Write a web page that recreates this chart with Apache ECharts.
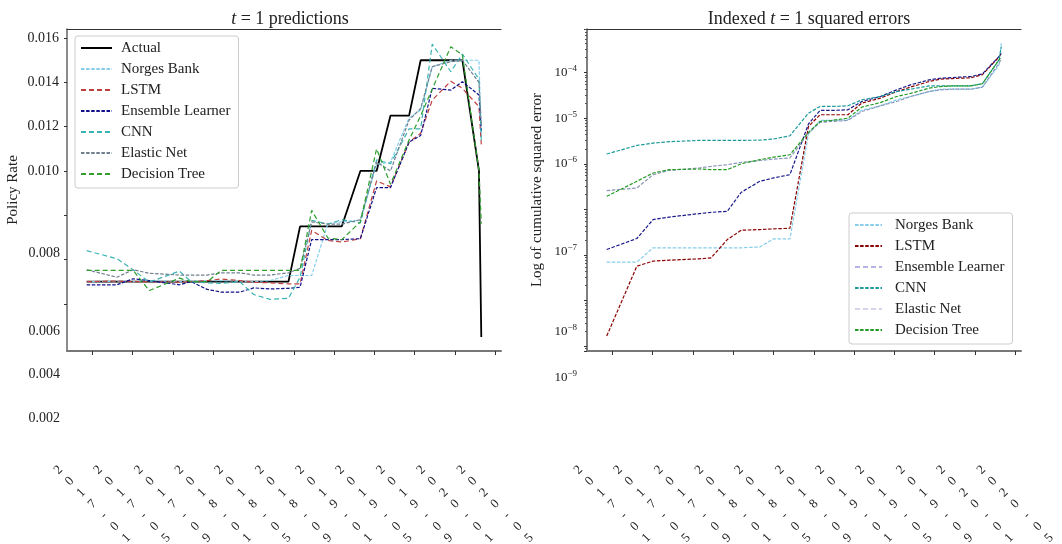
<!DOCTYPE html>
<html>
<head>
<meta charset="utf-8">
<script src="https://cdn.jsdelivr.net/npm/echarts@6/dist/echarts.min.js"></script>
<style>
  html, body { margin: 0; padding: 0; background: #fff; }
  #chart { width: 1062px; height: 544px; }
</style>
</head>
<body>
<div id="chart"></div>
<script>
// meeting dates shown on both panels
var dates = ['2016-12-15','2017-03-16','2017-05-04','2017-06-22','2017-09-21','2017-10-26','2017-12-14',
  '2018-01-25','2018-03-22','2018-05-03','2018-06-21','2018-08-16','2018-09-20','2018-10-25','2018-12-13',
  '2019-01-24','2019-03-21','2019-05-09','2019-06-20','2019-08-15','2019-09-19','2019-10-24','2019-12-19',
  '2020-01-23','2020-03-13','2020-03-20'];

// left panel: t = 1 predictions of the policy rate
var actual   = [0.005,0.005,0.005,0.005,0.005,0.005,0.005,0.005,0.005,0.005,0.005,0.005,0.0075,0.0075,0.0075,0.0075,0.01,0.01,0.0125,0.0125,0.015,0.015,0.015,0.015,0.01,0.0025];
var norges   = [0.00500,0.00502,0.00500,0.00505,0.00500,0.00503,0.00505,0.00505,0.00502,0.00500,0.00505,0.00528,0.00528,0.00528,0.00762,0.00770,0.00777,0.01030,0.01040,0.01240,0.01275,0.01470,0.01500,0.01500,0.01500,0.01150];
var lstm     = [0.00500,0.00503,0.00500,0.00500,0.00498,0.00500,0.00505,0.00512,0.00505,0.00497,0.00495,0.00490,0.00490,0.00732,0.00686,0.00679,0.00694,0.00955,0.00928,0.01130,0.01170,0.01320,0.01405,0.01373,0.01290,0.01120];
var ensemble = [0.00486,0.00486,0.00513,0.00505,0.00486,0.00500,0.00465,0.00453,0.00453,0.00472,0.00467,0.00470,0.00475,0.00690,0.00690,0.00690,0.00694,0.00925,0.00925,0.01130,0.01160,0.01373,0.01365,0.01403,0.01343,0.01180];
var cnn      = [0.00640,0.00604,0.00554,0.00498,0.00548,0.00500,0.00495,0.00492,0.00500,0.00442,0.00420,0.00425,0.00520,0.00777,0.00760,0.00780,0.00765,0.01050,0.01033,0.01190,0.01190,0.01573,0.01448,0.01528,0.01414,0.01139];
var elastic  = [0.00554,0.00520,0.00554,0.00538,0.00530,0.00530,0.00530,0.00540,0.00540,0.00530,0.00530,0.00540,0.00560,0.00770,0.00760,0.00760,0.00780,0.01040,0.01000,0.01230,0.01282,0.01471,0.01493,0.01500,0.01400,0.01210];
var tree     = [0.00551,0.00551,0.00551,0.00460,0.00516,0.00500,0.00500,0.00551,0.00551,0.00551,0.00551,0.00551,0.00551,0.00822,0.00697,0.00690,0.00770,0.01100,0.00940,0.01140,0.01250,0.01370,0.01561,0.01524,0.01000,0.00762];

// right panel: indexed cumulative squared errors (log scale)
var errNorges   = [6.97e-9,6.97e-9,1.44e-8,1.44e-8,1.44e-8,1.44e-8,1.44e-8,1.44e-8,1.5e-8,2.26e-8,2.26e-8,4.5e-6,8.92e-6,8.92e-6,9.2e-6,1.5e-5,1.87e-5,2.53e-5,2.99e-5,3.84e-5,4.32e-5,4.32e-5,4.32e-5,4.8e-5,1.45e-4,4.4e-4];
var errLstm     = [1.67e-10,5.69e-9,7.33e-9,7.71e-9,8.24e-9,8.67e-9,2.18e-8,3.49e-8,3.61e-8,3.74e-8,3.86e-8,6.59e-6,1.19e-5,1.19e-5,1.19e-5,2.14e-5,2.75e-5,3.84e-5,4.8e-5,6.37e-5,7.2e-5,7.4e-5,7.7e-5,9.0e-5,2.2e-4,2.65e-4];
var errEnsemble = [1.32e-8,2.3e-8,5.98e-8,6.8e-8,8.1e-8,8.6e-8,9.1e-8,2.37e-7,4.13e-7,4.9e-7,5.77e-7,7.5e-6,1.48e-5,1.48e-5,1.53e-5,2.32e-5,2.99e-5,4.18e-5,5.38e-5,6.92e-5,7.53e-5,7.8e-5,8.2e-5,9.37e-5,2.24e-4,2.65e-4];
var errCnn      = [1.64e-6,2.53e-6,2.85e-6,3.05e-6,3.26e-6,3.26e-6,3.26e-6,3.26e-6,3.3e-6,3.5e-6,4.12e-6,1.29e-5,1.81e-5,1.81e-5,1.87e-5,2.53e-5,2.99e-5,3.84e-5,4.32e-5,5.12e-5,5.12e-5,5.12e-5,5.12e-5,5.7e-5,1.9e-4,3.72e-4];
var errElastic  = [2.58e-7,2.95e-7,5.77e-7,7.2e-7,8.1e-7,8.79e-7,9.56e-7,1.07e-6,1.18e-6,1.27e-6,1.34e-6,4.71e-6,8.1e-6,8.48e-6,8.92e-6,1.4e-5,1.87e-5,2.32e-5,2.99e-5,3.84e-5,4.18e-5,4.32e-5,4.32e-5,4.8e-5,1.6e-4,1.95e-4];
var errTree     = [1.94e-7,4.13e-7,6.28e-7,7.43e-7,7.7e-7,7.43e-7,7.43e-7,1.0e-6,1.23e-6,1.4e-6,1.58e-6,4.9e-6,8.48e-6,8.92e-6,1.0e-5,1.75e-5,2.2e-5,2.99e-5,3.5e-5,4.55e-5,4.95e-5,5.12e-5,5.12e-5,5.7e-5,1.9e-4,2.24e-4];

// axis ticks
var tickDates  = ['2017-01-01','2017-05-01','2017-09-01','2018-01-01','2018-05-01','2018-09-01','2019-01-01','2019-05-01','2019-09-01','2020-01-01','2020-05-01'];
var tickLabels = ['2017-01','2017-05','2017-09','2018-01','2018-05','2018-09','2019-01','2019-05','2019-09','2020-01','2020-05'];
var rateTicks  = [0.004,0.006,0.008,0.010,0.012,0.014,0.016];
var rateLabels = [0.010,0.012,0.014,0.016];

var FONT = 'Liberation Serif';

// days since 2017-01-01
function dayNum(s){
	var p = s.split('-');
	return (Date.UTC(+p[0], +p[1] - 1, +p[2]) - Date.UTC(2017, 0, 1)) / 864e5;
}
var tickDays = tickDates.map(dayNum);
function pairs(vals){
	return dates.map(function(d, i){ return [dayNum(d), vals[i]]; });
}

var X_MIN = -76.5, X_MAX = 1233.5;

function bottomAxis(grid){
	return {
		type: 'value', gridIndex: grid, min: X_MIN, max: X_MAX,
		splitLine: {show: false},
		axisLine: {show: true, onZero: false, lineStyle: {color: '#777', width: 2}},
		axisTick: {show: true, customValues: tickDays, length: 4, lineStyle: {color: '#333'}},
		axisLabel: {
			customValues: tickDays, rotate: 45, margin: 153, align: 'center', verticalAlign: 'middle',
			fontFamily: FONT, fontSize: 13, lineHeight: 16, color: '#222',
			formatter: function(v){
				var i = tickDays.indexOf(v);
				var t = i >= 0 ? tickLabels[i] : '';
				return t.split('').join('\n');
			}
		}
	};
}
function topLine(grid){
	return {
		type: 'value', gridIndex: grid, position: 'top', min: X_MIN, max: X_MAX,
		splitLine: {show: false}, axisTick: {show: false}, axisLabel: {show: false},
		axisLine: {show: true, onZero: false, lineStyle: {color: '#333', width: 1}}
	};
}

function line(name, vals, color, dash, xi, yi, width){
	return {
		name: name, type: 'line', xAxisIndex: xi, yAxisIndex: yi,
		data: pairs(vals), symbol: 'none', showSymbol: false,
		lineStyle: {color: color, width: width || 1.2, type: dash},
		itemStyle: {color: color}
	};
}

var fine = [3.5, 1.6], longd = [5, 3];
var sup = {fontSize: 9, fontFamily: FONT, color: '#222', padding: [0, 0, 8, 0]};
// legend entries show only the line, no marker
var noMark = {opacity: 0};

var chart = echarts.init(document.getElementById('chart'));
chart.setOption({
	animation: false,
	textStyle: {fontFamily: FONT},
	title: [
		{text: '{i|t} = 1 predictions', left: 285, top: 5, textAlign: 'center',
		 textStyle: {fontSize: 18, fontWeight: 'normal', color: '#222', fontFamily: FONT,
			rich: {i: {fontStyle: 'italic', fontSize: 18, fontFamily: FONT, color: '#222'}}}},
		{text: 'Indexed {i|t} = 1 squared errors', left: 804, top: 5, textAlign: 'center',
		 textStyle: {fontSize: 18, fontWeight: 'normal', color: '#222', fontFamily: FONT,
			rich: {i: {fontStyle: 'italic', fontSize: 18, fontFamily: FONT, color: '#222'}}}}
	],
	grid: [
		{left: 67, top: 29, width: 434, height: 322, outerBoundsMode: 'none'},
		{left: 587, top: 29, width: 434, height: 322, outerBoundsMode: 'none'}
	],
	legend: [
		{
			orient: 'vertical', left: 75, top: 36, itemWidth: 31, itemHeight: 10, itemGap: 5,
			padding: [4, 8, 6, 5], backgroundColor: '#fff', borderColor: '#ccc', borderWidth: 1, borderRadius: 3,
			itemStyle: noMark,
			textStyle: {fontFamily: FONT, fontSize: 15, color: '#222', lineHeight: 16, padding: [0, 0, 0, 4]},
			data: ['Actual', 'Norges Bank', 'LSTM', 'Ensemble Learner', 'CNN', 'Elastic Net', 'Decision Tree']
		},
		{
			orient: 'vertical', left: 849, top: 213, itemWidth: 27, itemHeight: 10, itemGap: 5,
			padding: [4, 8, 6, 5], backgroundColor: '#fff', borderColor: '#ccc', borderWidth: 1, borderRadius: 3,
			itemStyle: noMark,
			textStyle: {fontFamily: FONT, fontSize: 15, color: '#222', lineHeight: 16, padding: [0, 0, 0, 8]},
			data: [
				{name: 'Norges Bank', lineStyle: {color: '#87ceeb', type: fine}, itemStyle: noMark},
				{name: 'LSTM', lineStyle: {color: '#8b0000', type: fine}, itemStyle: noMark},
				{name: 'Ensemble Learner', lineStyle: {color: '#b4b4e6', type: longd}, itemStyle: noMark},
				{name: 'CNN', lineStyle: {color: '#1a9a9a', type: fine}, itemStyle: noMark},
				{name: 'Elastic Net', lineStyle: {color: '#d4d4ea', type: longd}, itemStyle: noMark},
				{name: 'Decision Tree', lineStyle: {color: '#239b23', type: fine}, itemStyle: noMark}
			]
		}
	],
	xAxis: [bottomAxis(0), bottomAxis(1), topLine(0), topLine(1)],
	yAxis: [
		{
			type: 'value', gridIndex: 0, min: 0.00187, max: 0.01641,
			name: 'Policy Rate', nameLocation: 'middle', nameGap: 46,
			nameTextStyle: {fontFamily: FONT, fontSize: 15, color: '#222'},
			splitLine: {show: false},
			axisLine: {show: true, onZero: false, lineStyle: {color: '#666', width: 1.5}},
			axisTick: {show: true, customValues: rateTicks, length: 3, lineStyle: {color: '#333'}},
			axisLabel: {customValues: rateLabels, margin: 8, fontSize: 14, color: '#222', fontFamily: FONT,
				formatter: function(v){ return v.toFixed(3); }}
		},
		{
			type: 'log', logBase: 10, gridIndex: 1, min: 7.85e-11, max: 9.04e-4, splitNumber: 8,
			name: 'Log of cumulative squared error', nameLocation: 'middle', nameGap: 42,
			nameTextStyle: {fontFamily: FONT, fontSize: 15, color: '#222'},
			splitLine: {show: false},
			axisLine: {show: true, onZero: false, lineStyle: {color: '#555', width: 1.5}},
			axisTick: {show: true, length: 3, lineStyle: {color: '#333'}},
			minorTick: {show: true, splitNumber: 8, length: 2, lineStyle: {color: '#555'}},
			axisLabel: {margin: 10, fontSize: 13, color: '#222', fontFamily: FONT,
				formatter: function(v){
					var e = Math.round(Math.log(v) / Math.LN10);
					if (e < -6 || e > -4) return '';
					return '10{s|\u2212' + (-e) + '}';
				},
				rich: {s: sup}}
		}
	],
	// the lower tick labels sit below their ticks in the original figure
	graphic: [
		{type: 'text', x: 60, y: 253, style: {text: '0.008', align: 'right', verticalAlign: 'middle', font: '14px "Liberation Serif"', fill: '#222'}},
		{type: 'text', x: 60, y: 331, style: {text: '0.006', align: 'right', verticalAlign: 'middle', font: '14px "Liberation Serif"', fill: '#222'}},
		{type: 'text', x: 60, y: 374, style: {text: '0.004', align: 'right', verticalAlign: 'middle', font: '14px "Liberation Serif"', fill: '#222'}},
		{type: 'text', x: 60, y: 418, style: {text: '0.002', align: 'right', verticalAlign: 'middle', font: '14px "Liberation Serif"', fill: '#222'}},
		{type: 'text', x: 577, y: 252, style: {text: '10{s|\u22127}', rich: {s: sup}, align: 'right', verticalAlign: 'middle', font: '13px "Liberation Serif"', fill: '#222'}},
		{type: 'text', x: 577, y: 332, style: {text: '10{s|\u22128}', rich: {s: sup}, align: 'right', verticalAlign: 'middle', font: '13px "Liberation Serif"', fill: '#222'}},
		{type: 'text', x: 577, y: 378, style: {text: '10{s|\u22129}', rich: {s: sup}, align: 'right', verticalAlign: 'middle', font: '13px "Liberation Serif"', fill: '#222'}}
	],
	series: [
		line('Actual', actual, '#000000', 'solid', 0, 0, 1.8),
		line('Norges Bank', norges, '#87ceeb', fine, 0, 0),
		line('LSTM', lstm, '#c04040', longd, 0, 0),
		line('Ensemble Learner', ensemble, '#10108a', fine, 0, 0),
		line('CNN', cnn, '#3cb3b3', longd, 0, 0),
		line('Elastic Net', elastic, '#708090', fine, 0, 0),
		line('Decision Tree', tree, '#2e9e2e', longd, 0, 0),

		line('Norges Bank', errNorges, '#87ceeb', fine, 1, 1),
		line('LSTM', errLstm, '#8b0000', fine, 1, 1),
		line('Ensemble Learner', errEnsemble, '#1a1a8c', fine, 1, 1),
		line('CNN', errCnn, '#1a9a9a', fine, 1, 1),
		line('Elastic Net', errElastic, '#8a94b8', fine, 1, 1),
		line('Decision Tree', errTree, '#239b23', fine, 1, 1)
	]
});
</script>
</body>
</html>
